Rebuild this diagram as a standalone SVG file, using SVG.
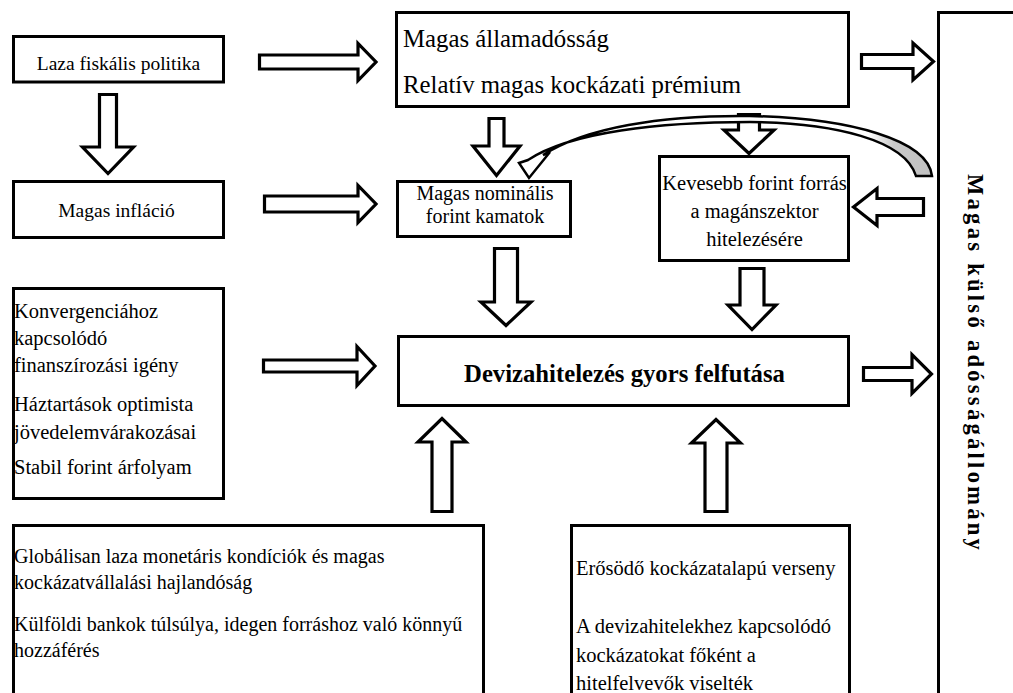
<svg xmlns="http://www.w3.org/2000/svg" width="1013" height="693" viewBox="0 0 1013 693">
<style>
.box{fill:#fff;stroke:#000;stroke-width:3}
.arr{fill:#fff;stroke:#000;stroke-width:3.2;stroke-linejoin:miter}
text{fill:#000}
.c{text-anchor:middle}
</style>
<defs>
<linearGradient id="cg" gradientUnits="userSpaceOnUse" x1="520" y1="0" x2="935" y2="0">
<stop offset="0" stop-color="#fff"/>
<stop offset="0.84" stop-color="#fff"/>
<stop offset="0.9" stop-color="#c8c8c8"/>
<stop offset="1" stop-color="#c0c0c0"/>
</linearGradient>
</defs>
<rect width="1013" height="693" fill="#fff"/>
<g id="n-laza">
<rect class="box" x="13.5" y="36.5" width="210" height="45.5"/>
<text class="c" font-family="Liberation Serif" font-size="19.5" x="118.5" y="70">Laza fiskális politika</text>
</g>
<g id="n-inflacio">
<rect class="box" x="13.5" y="181.5" width="210" height="56"/>
<text class="c" font-family="Liberation Serif" font-size="19.5" x="116.5" y="217">Magas infláció</text>
</g>
<g id="n-allamadossag">
<rect class="box" x="396.5" y="12.5" width="452" height="94"/>
<text font-family="Liberation Serif" font-size="24.8" x="403" y="47">Magas államadósság</text>
<text font-family="Liberation Serif" font-size="24.8" x="403" y="93">Relatív magas kockázati prémium</text>
</g>
<g id="n-kamatok">
<rect class="box" x="397.5" y="181.5" width="173" height="55"/>
<text class="c" font-family="Liberation Serif" font-size="20" x="485" y="200">Magas nominális</text>
<text class="c" font-family="Liberation Serif" font-size="20" x="485" y="223">forint kamatok</text>
</g>
<g id="n-kevesebb">
<rect class="box" x="659.5" y="156.5" width="189" height="104"/>
<text class="c" font-family="Liberation Serif" font-size="20.5" x="754.5" y="190">Kevesebb forint forrás</text>
<text class="c" font-family="Liberation Serif" font-size="20.5" x="754.5" y="218">a magánszektor</text>
<text class="c" font-family="Liberation Serif" font-size="20.5" x="754.5" y="246">hitelezésére</text>
</g>
<g id="n-deviza">
<rect class="box" x="398.5" y="336.5" width="450" height="69"/>
<text class="c" font-family="Liberation Serif" font-weight="bold" font-size="24.7" x="624.5" y="382">Devizahitelezés gyors felfutása</text>
</g>
<g id="n-konvergencia">
<rect class="box" x="13.5" y="288.5" width="210" height="210"/>
<text font-family="Liberation Serif" font-size="20.5" x="14" y="318">Konvergenciához</text>
<text font-family="Liberation Serif" font-size="20.5" x="14" y="345">kapcsolódó</text>
<text font-family="Liberation Serif" font-size="20.5" x="14" y="372">finanszírozási igény</text>
<text font-family="Liberation Serif" font-size="20.5" x="14" y="411">Háztartások optimista</text>
<text font-family="Liberation Serif" font-size="20.5" x="14" y="439">jövedelemvárakozásai</text>
<text font-family="Liberation Serif" font-size="20.5" x="14" y="474">Stabil forint árfolyam</text>
</g>
<g id="n-global">
<rect class="box" x="13.5" y="525.5" width="470" height="200"/>
<text font-family="Liberation Serif" font-size="20" x="14" y="563">Globálisan laza monetáris kondíciók és magas</text>
<text font-family="Liberation Serif" font-size="20" x="14" y="589">kockázatvállalási hajlandóság</text>
<text font-family="Liberation Serif" font-size="20" x="14" y="631">Külföldi bankok túlsúlya, idegen forráshoz való könnyű</text>
<text font-family="Liberation Serif" font-size="20" x="14" y="657">hozzáférés</text>
</g>
<g id="n-verseny">
<rect class="box" x="571.5" y="525.5" width="278" height="200"/>
<text font-family="Liberation Serif" font-size="20.5" x="576" y="575">Erősödő kockázatalapú verseny</text>
<text font-family="Liberation Serif" font-size="20.5" x="576" y="633">A devizahitelekhez kapcsolódó</text>
<text font-family="Liberation Serif" font-size="20.5" x="576" y="662">kockázatokat főként a</text>
<text font-family="Liberation Serif" font-size="20.5" x="576" y="690">hitelfelvevők viselték</text>
</g>
<g id="n-kulso">
<rect class="box" x="938.5" y="12.5" width="200" height="720"/>
<text font-family="Liberation Serif" font-weight="bold" font-size="22.5" letter-spacing="3.3" transform="translate(968,174) rotate(90)" x="0" y="0">Magas külső adósságállomány</text>
</g>
<g id="connectors">
<polygon class="arr" points="259.5,55 358,55 358,43.5 376,62 358,80.5 358,69 259.5,69"/>
<polygon class="arr" points="264.5,196 358,196 358,185.5 376,204 358,222.5 358,212 264.5,212"/>
<polygon class="arr" points="263.5,360 357,360 357,346.5 375,366 357,385.5 357,372 263.5,372"/>
<polygon class="arr" points="861.5,54.5 913,54.5 913,43 933.5,61.5 913,80 913,68.5 861.5,68.5"/>
<polygon class="arr" points="863.5,367.5 912,367.5 912,354.5 931.5,374 912,393.5 912,380.5 863.5,380.5"/>
<polygon class="arr" points="923.5,198.5 877,198.5 877,188.5 853.5,207 877,225.5 877,215.5 923.5,215.5"/>
<polygon class="arr" points="99.5,94.5 116.5,94.5 116.5,147 133.5,147 108,173.5 82.5,147 99.5,147"/>
<polygon class="arr" points="489,118.5 504,118.5 504,146 520,146 496.5,175.5 473,146 489,146"/>
<polygon class="arr" points="738.5,114.5 759.5,114.5 759.5,130 774,130 749,153.5 724,130 738.5,130"/>
<polygon class="arr" points="494.5,248.5 517.5,248.5 517.5,302 531,302 506,325.5 481,302 494.5,302"/>
<polygon class="arr" points="740,268.5 764,268.5 764,305 776,305 752,329.5 728,305 740,305"/>
<polygon class="arr" points="432,511.5 452,511.5 452,442 466,442 442,418.5 418,442 432,442"/>
<polygon class="arr" points="705,511.5 727,511.5 727,443 740.5,443 716,419.5 691.5,443 705,443"/>
<path d="M932,176 C928,140 850,118 750,116 C660,115 585,128 543,155 L550,152 L529,178 L519,163 L528,160 C570,132 660,122 750,122 C835,123 905,140 916,176 Z" fill="url(#cg)" stroke="#000" stroke-width="2.5" stroke-linejoin="miter"/>
</g>
</svg>
